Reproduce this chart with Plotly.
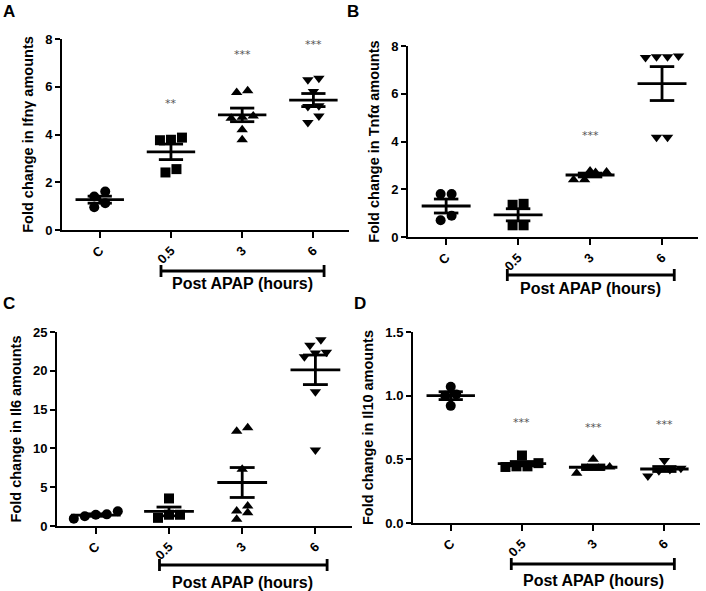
import numpy as np
import plotly.graph_objects as go

W, H = 706, 591

categories = ["C", "0.5", "3", "6"]
symbols = ["circle", "square", "triangle-up", "triangle-down"]

# Panel A: Ifng
ifng_C = [1.40, 1.61, 0.95, 1.12]
ifng_05 = [3.78, 3.76, 3.87, 2.41, 2.55]
ifng_3 = [5.76, 5.83, 4.68, 4.72, 4.78, 4.20, 3.78]
ifng_6 = [6.36, 6.29, 5.80, 5.20, 5.17, 4.78, 4.50]

# Panel B: Tnfa
tnfa_C = [1.80, 1.80, 0.70, 0.89]
tnfa_05 = [1.39, 1.35, 0.49, 0.49]
tnfa_3 = [2.72, 2.70, 2.76, 2.40, 2.40]
tnfa_6 = [7.55, 7.55, 7.52, 7.58, 4.18, 4.18]

# Panel C: Il6
il6_C = [1.45, 1.50, 0.95, 1.90, 1.25]
il6_05 = [3.55, 1.45, 1.05, 1.45]
il6_3 = [12.65, 12.20, 7.30, 1.93, 2.57, 0.86, 1.72]
il6_6 = [24.0, 23.3, 22.4, 22.3, 21.8, 17.3, 9.8]

# Panel D: Il10
il10_C = [1.07, 0.92, 1.00, 1.01]
il10_05 = [0.53, 0.445, 0.445, 0.44, 0.47]
il10_3 = [0.50, 0.43, 0.43, 0.39, 0.44]
il10_6 = [0.49, 0.41, 0.37, 0.42, 0.43]

# significance stars: (category index, y value, text)
stars_A = [(1, 5.3, "**"), (2, 7.34, "***"), (3, 7.76, "***")]
stars_B = [(2, 4.24, "***"), (3, 8.9, "***")]
stars_C = [(3, 27.3, "***")]
stars_D = [(1, 0.79, "***"), (2, 0.75, "***"), (3, 0.77, "***")]

panels = [
    dict(groups=[ifng_C, ifng_05, ifng_3, ifng_6], stars=stars_A,
         title="Fold change in Ifn\u03b3 amounts", yrange=[0, 8], dtick=2, fmt="d",
         px=(62, 349), py=(39, 230), letter="A", lpos=(9, 12),
         br=(0.86, 3.15, 271, 283)),
    dict(groups=[tnfa_C, tnfa_05, tnfa_3, tnfa_6], stars=stars_B,
         title="Fold change in Tnf\u03b1 amounts", yrange=[0, 8], dtick=2, fmt="d",
         px=(408, 698), py=(46, 237), letter="B", lpos=(353, 12),
         br=(0.85, 3.17, 275, 288)),
    dict(groups=[il6_C, il6_05, il6_3, il6_6], stars=stars_C,
         title="Fold change in Il6 amounts", yrange=[0, 25], dtick=5, fmt="d",
         px=(57, 352), py=(332, 526), letter="C", lpos=(9, 304),
         br=(0.87, 3.16, 565, 582)),
    dict(groups=[il10_C, il10_05, il10_3, il10_6], stars=stars_D,
         title="Fold change in Il10 amounts", yrange=[0, 1.5], dtick=0.5, fmt=".1f",
         px=(413, 700), py=(332, 523), letter="D", lpos=(360, 303),
         br=(0.85, 3.14, 564, 580)),
]

XR = [-0.53, 3.5]
MARKER_PX = 8.0
SPACING_PX = 11.0


def fx(px):
    return min(max(px / W, 0.0), 1.0)


def fy(py):
    return min(max(1 - py / H, 0.0), 1.0)


def swarm_offsets(vals, px_per_unit, px_per_cat):
    """Prism-like scatter arrangement: bin close values into rows, centre each row."""
    vals = np.asarray(vals, dtype=float)
    order = np.argsort(vals)
    offs = np.zeros(len(vals))
    rows = []
    for idx in order:
        if rows and (vals[idx] - vals[rows[-1][0]]) * px_per_unit < MARKER_PX:
            rows[-1].append(idx)
        else:
            rows.append([idx])
    for row in rows:
        k = len(row)
        for j, idx in enumerate(row):
            offs[idx] = (j - (k - 1) / 2) * SPACING_PX / px_per_cat
    return offs


fig = go.Figure()
annotations = []
shapes = []
layout_axes = {}

for i, p in enumerate(panels):
    n = i + 1
    xa = "x" if n == 1 else f"x{n}"
    ya = "y" if n == 1 else f"y{n}"
    xl = "xaxis" if n == 1 else f"xaxis{n}"
    yl = "yaxis" if n == 1 else f"yaxis{n}"
    x0, x1 = p["px"]
    y0, y1 = p["py"]
    px_per_unit = (y1 - y0) / (p["yrange"][1] - p["yrange"][0])
    px_per_cat = (x1 - x0) / (XR[1] - XR[0])
    for g, vals in enumerate(p["groups"]):
        vals = np.array(vals, dtype=float)
        m = len(vals)
        xs = g + swarm_offsets(vals, px_per_unit, px_per_cat)
        fig.add_trace(go.Scatter(
            x=xs, y=vals, mode="markers", xaxis=xa, yaxis=ya,
            marker=dict(symbol=symbols[g], size=10, color="black"),
            cliponaxis=False, showlegend=False, hoverinfo="skip"))
        mean = vals.mean()
        sem = vals.std(ddof=1) / np.sqrt(m)
        fig.add_trace(go.Scatter(
            x=[g - 0.34, g + 0.34], y=[mean, mean], mode="lines",
            xaxis=xa, yaxis=ya, line=dict(color="black", width=2.8),
            showlegend=False, hoverinfo="skip", cliponaxis=False))
        fig.add_trace(go.Scatter(
            x=[g - 0.17, g + 0.17, None, g, g, None, g - 0.17, g + 0.17],
            y=[mean + sem, mean + sem, None, mean + sem, mean - sem, None,
               mean - sem, mean - sem],
            mode="lines", xaxis=xa, yaxis=ya,
            line=dict(color="black", width=2.8),
            showlegend=False, hoverinfo="skip", cliponaxis=False))
    for (cx, sy, txt) in p["stars"]:
        annotations.append(dict(x=cx, y=sy, xref=xa, yref=ya, text=txt,
                                showarrow=False,
                                font=dict(size=11, color="#555",
                                          family="DejaVu Sans")))
    layout_axes[xl] = dict(
        domain=[fx(x0), fx(x1)], anchor=ya, range=XR, automargin=False,
        tickmode="array", tickvals=[0, 1, 2, 3], ticktext=categories,
        tickangle=-45,
        showline=True, linewidth=2, linecolor="black",
        ticks="outside", ticklen=6, tickwidth=2, tickcolor="black",
        showgrid=False, zeroline=False,
        tickfont=dict(size=13, color="black", family="Liberation Sans",
                      weight="bold"))
    layout_axes[yl] = dict(
        domain=[fy(y1), fy(y0)], anchor=xa, range=p["yrange"],
        automargin=False,
        dtick=p["dtick"], tick0=0, tickformat=p["fmt"],
        showline=True, linewidth=2, linecolor="black",
        ticks="outside", ticklen=5, tickwidth=2, tickcolor="black",
        showgrid=False, zeroline=False,
        tickfont=dict(size=13, color="black", family="Liberation Sans",
                      weight="bold"),
        title=dict(text=p["title"], standoff=8,
                   font=dict(size=14.5, color="black", family="Liberation Sans",
                             weight="bold")))
    lx, ly = p["lpos"]
    annotations.append(dict(x=fx(lx), y=fy(ly), xref="paper", yref="paper",
                            text=p["letter"], showarrow=False,
                            xanchor="center", yanchor="middle",
                            font=dict(size=17, color="black",
                                      family="Liberation Sans", weight="bold")))
    # Post APAP bracket (paper y coordinates)
    bx0, bx1, by, ty = p["br"]
    yb = fy(by)
    cap = 6 / H
    shapes.append(dict(type="line", xref=xa, yref="paper", x0=bx0, x1=bx1,
                       y0=yb, y1=yb, line=dict(color="black", width=2.8)))
    for bx in (bx0, bx1):
        shapes.append(dict(type="line", xref=xa, yref="paper", x0=bx, x1=bx,
                           y0=yb - cap, y1=yb + cap,
                           line=dict(color="black", width=2.8)))
    annotations.append(dict(x=2.0, y=fy(ty), xref=xa, yref="paper",
                            text="Post APAP (hours)", showarrow=False,
                            xanchor="center", yanchor="middle",
                            font=dict(size=16, color="black",
                                      family="Liberation Sans", weight="bold")))

fig.update_layout(
    width=W, height=H, margin=dict(l=0, r=0, t=0, b=0, autoexpand=False),
    plot_bgcolor="white", paper_bgcolor="white",
    annotations=annotations, shapes=shapes, showlegend=False,
    **layout_axes)

fig.write_html(
    "out.html",
    config={"displayModeBar": False},
    post_script="document.body.style.margin='0';"
                "document.body.style.overflow='hidden';")
